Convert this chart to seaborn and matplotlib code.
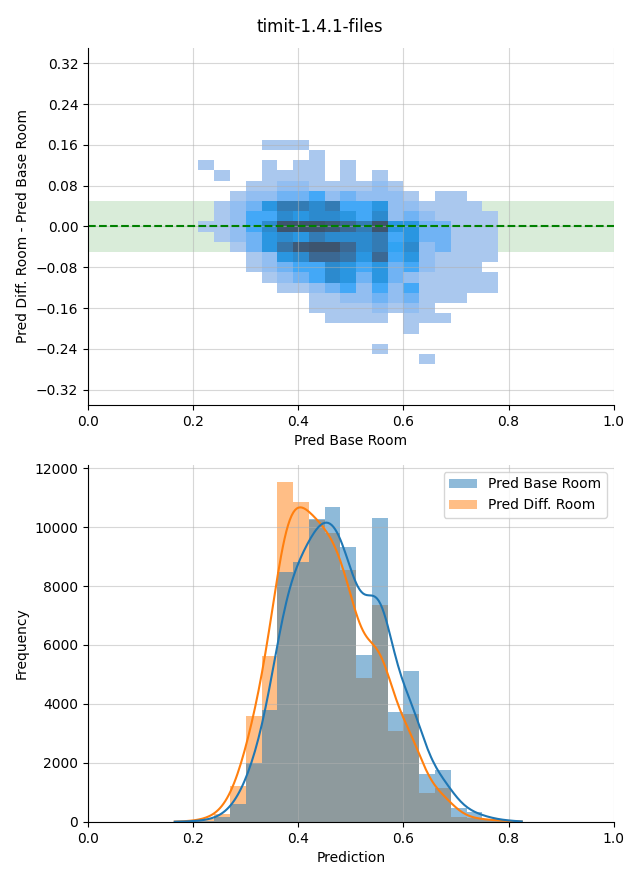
import numpy as np
import pandas as pd
import seaborn as sns
import matplotlib
matplotlib.use("Agg")
import matplotlib.pyplot as plt

title = "timit-1.4.1-files"
base_label = "Pred Base Room"
diff_label = "Pred Diff. Room"

# ---------------- top panel: 2-D histogram ----------------
# column bins (Pred Base Room), left edges
grid_x_left = [0.21, 0.24, 0.27, 0.30, 0.33, 0.36, 0.39, 0.42, 0.45, 0.48,
               0.51, 0.54, 0.57, 0.60, 0.63, 0.66, 0.69, 0.72, 0.75]
# row bins (Diff - Base), top edges, top to bottom
grid_y_top = [0.17, 0.15, 0.13, 0.11, 0.09, 0.07, 0.05, 0.03, 0.01, -0.01, -0.03,
              -0.05, -0.07, -0.09, -0.11, -0.13, -0.15, -0.17, -0.19, -0.21, -0.23, -0.25]
# counts per cell (rows top->bottom, columns left->right)
cell_counts = [
    [0, 0, 0, 0, 20, 20, 20, 0, 0, 0, 0, 0, 0, 0, 0, 0, 0, 0, 0],
    [0, 0, 0, 0, 0, 0, 0, 20, 0, 0, 0, 0, 0, 0, 0, 0, 0, 0, 0],
    [20, 0, 0, 0, 20, 0, 20, 20, 0, 20, 0, 0, 0, 0, 0, 0, 0, 0, 0],
    [0, 20, 0, 0, 20, 20, 20, 20, 0, 20, 0, 20, 0, 0, 0, 0, 0, 0, 0],
    [0, 0, 0, 20, 20, 200, 200, 20, 20, 20, 20, 200, 20, 0, 0, 0, 0, 0, 0],
    [0, 0, 20, 200, 200, 400, 400, 600, 200, 400, 200, 200, 200, 20, 0, 20, 20, 0, 0],
    [0, 20, 200, 400, 900, 1350, 1350, 1100, 1350, 600, 600, 900, 200, 200, 20, 20, 20, 20, 0],
    [0, 20, 200, 600, 600, 1100, 900, 1100, 1100, 900, 600, 1100, 200, 400, 200, 20, 20, 20, 20],
    [20, 20, 200, 600, 1100, 2000, 2000, 2000, 1900, 1650, 1350, 2000, 900, 900, 400, 400, 20, 20, 20],
    [0, 20, 200, 400, 900, 1100, 900, 1350, 1100, 1100, 1100, 1350, 600, 900, 400, 400, 20, 20, 20],
    [0, 0, 20, 400, 900, 1450, 1900, 2000, 2000, 1650, 1100, 1350, 700, 1100, 200, 400, 20, 20, 20],
    [0, 0, 0, 20, 200, 900, 1100, 1650, 1650, 1450, 900, 1650, 600, 900, 200, 20, 20, 20, 20],
    [0, 0, 0, 20, 200, 400, 600, 600, 1100, 900, 600, 900, 400, 600, 200, 20, 20, 20, 0],
    [0, 0, 0, 0, 20, 200, 400, 600, 1100, 900, 400, 900, 400, 200, 20, 20, 20, 20, 20],
    [0, 0, 0, 0, 0, 20, 20, 200, 400, 600, 200, 600, 200, 600, 20, 20, 20, 20, 20],
    [0, 0, 0, 0, 0, 0, 0, 20, 20, 200, 200, 400, 200, 400, 20, 20, 20, 0, 0],
    [0, 0, 0, 0, 0, 0, 0, 20, 20, 20, 20, 200, 20, 200, 20, 0, 0, 0, 0],
    [0, 0, 0, 0, 0, 0, 0, 0, 20, 20, 20, 20, 0, 20, 20, 20, 0, 0, 0],
    [0, 0, 0, 0, 0, 0, 0, 0, 0, 0, 0, 0, 0, 20, 0, 0, 0, 0, 0],
    [0, 0, 0, 0, 0, 0, 0, 0, 0, 0, 0, 0, 0, 0, 0, 0, 0, 0, 0],
    [0, 0, 0, 0, 0, 0, 0, 0, 0, 0, 0, 20, 0, 0, 0, 0, 0, 0, 0],
    [0, 0, 0, 0, 0, 0, 0, 0, 0, 0, 0, 0, 0, 0, 20, 0, 0, 0, 0],
]
top_yticks = [-0.32, -0.24, -0.16, -0.08, 0.0, 0.08, 0.16, 0.24, 0.32]

# ---------------- bottom panel: 1-D histograms ----------------
hist_left = [0.15, 0.18, 0.21, 0.24, 0.27, 0.30, 0.33, 0.36, 0.39, 0.42, 0.45, 0.48,
             0.51, 0.54, 0.57, 0.60, 0.63, 0.66, 0.69, 0.72, 0.75, 0.78, 0.81]
base_counts = [5, 15, 45, 150, 620, 1990, 3800, 8460, 8830, 10280, 10690, 9310,
               5660, 10300, 3720, 5110, 1620, 1760, 460, 330, 110, 50, 5]
diff_counts = [3, 20, 90, 280, 1220, 3600, 5630, 11530, 10850, 10230, 9810, 8540,
               4870, 7360, 3085, 3660, 970, 1150, 170, 125, 60, 40, 3]

# ---------- build tables ----------
cw, rh = 0.03, 0.02
rows = []
for yi, top in enumerate(grid_y_top):
    for xi, left in enumerate(grid_x_left):
        c = cell_counts[yi][xi]
        if c > 0:
            rows.append((left + cw / 2, top - rh / 2, c))
df2 = pd.DataFrame(rows, columns=["base", "delta", "count"])
x_edges = [round(v, 4) for v in grid_x_left + [grid_x_left[-1] + cw]]
y_edges = sorted([round(t - rh, 4) for t in grid_y_top] + [grid_y_top[0]])

bw = 0.03
df1 = pd.concat([
    pd.DataFrame({"Prediction": np.array(hist_left) + bw / 2, "src": base_label, "count": base_counts}),
    pd.DataFrame({"Prediction": np.array(hist_left) + bw / 2, "src": diff_label, "count": diff_counts}),
], ignore_index=True)
h_edges = [round(v, 4) for v in hist_left + [hist_left[-1] + bw]]

# ---------- figure ----------
fig, (ax1, ax2) = plt.subplots(2, 1, figsize=(6.4, 8.8), dpi=100)
fig.subplots_adjust(left=0.1375, right=0.959, top=0.9455, bottom=0.066, hspace=0.168)

ax1.axhspan(-0.05, 0.05, color="green", alpha=0.15, zorder=0, linewidth=0)
sns.histplot(data=df2, x="base", y="delta", weights="count", bins=(x_edges, y_edges),
             color="C0", ax=ax1)
ax1.axhline(0, color="green", linestyle="--", linewidth=1.5)
ax1.set_xlim(0, 1)
ax1.set_ylim(-0.35, 0.35)
ax1.set_yticks(top_yticks)
ax1.set_xlabel("Pred Base Room")
ax1.set_ylabel("Pred Diff. Room - Pred Base Room")
ax1.grid(True, alpha=0.5)

sns.histplot(data=df1, x="Prediction", hue="src", weights="count", bins=h_edges,
             hue_order=[base_label, diff_label], palette=["C0", "C1"],
             alpha=0.5, linewidth=0, kde=True,
             kde_kws=dict(bw_method=0.27, cut=0), ax=ax2)
ax2.set_xlim(0, 1)
ax2.set_xlabel("Prediction")
ax2.set_ylabel("Frequency")
ax2.grid(True, alpha=0.5)
sns.move_legend(ax2, "upper right", title=None)

for ax in (ax1, ax2):
    sns.despine(ax=ax)

fig.suptitle(title, fontsize=12, y=0.979)
fig.savefig("out.png", dpi=100)
